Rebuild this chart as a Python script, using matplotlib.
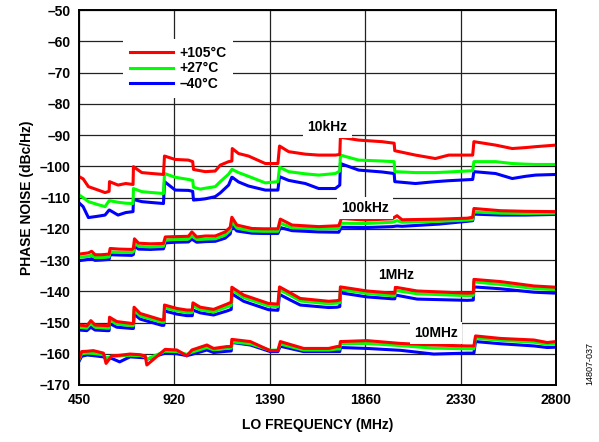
import matplotlib
import numpy as np

matplotlib.use("Agg")
import matplotlib.pyplot as plt

plt.rcParams["font.family"] = ["Liberation Sans", "DejaVu Sans"]
plt.rcParams["font.weight"] = "bold"

# 10 kHz offset
f_10k = [450, 470, 496, 540, 578, 598, 600, 642, 680, 716, 718, 759, 810, 866, 871, 924, 989,
         1010, 1014, 1047, 1072, 1121, 1146, 1187, 1203, 1205, 1236, 1285, 1368, 1430, 1438,
         1483, 1565, 1631, 1713, 1735, 1738, 1828, 1943, 2003, 2006, 2108, 2206, 2272, 2390,
         2396, 2503, 2585, 2650, 2700, 2800]
hot_10k = [-103.3, -104, -106.5, -107.5, -108.4, -108, -104.9, -106, -105.5, -105.8, -100.1,
           -102, -102.3, -102.6, -96.7, -97.8, -98, -98.5, -101, -101.4, -101.7, -101.5, -99.6,
           -98.5, -98.3, -94.3, -95.9, -96.7, -99.1, -99.1, -93.5, -95.3, -96.1, -96.4, -96.4,
           -96.2, -90.7, -91.6, -92.1, -92.6, -95, -96.4, -97.5, -96.4, -96.4, -92.1, -93.2,
           -94.3, -94, -93.7, -93.2]
room_10k = [-109.2, -110, -111.3, -112.2, -112.9, -111, -111, -111.5, -111.8, -111.9, -107.1,
            -108.1, -108.4, -108.7, -102.3, -103.5, -104.2, -104.5, -106.7, -107.3, -107,
            -106.5, -104.9, -102.5, -101, -101, -102, -103.2, -105.3, -104.9, -100.3, -101.7,
            -102.4, -102.8, -102.3, -101.5, -96.4, -98, -98.3, -98.5, -101.7, -102, -102,
            -101.8, -101.4, -98.5, -98.5, -99.1, -99.3, -99.4, -99.4]
cold_10k = [-111.7, -112.9, -116.4, -116, -115.6, -114, -114, -115.6, -114.8, -114.5, -110.6,
            -111.3, -111.6, -111.9, -104.9, -107.6, -107.7, -108, -110.8, -110.6, -110.4,
            -109.7, -108.5, -106, -103.5, -103.5, -105, -106.3, -107.6, -107.6, -103.3, -104.5,
            -105.5, -107.1, -107.1, -106, -99.1, -101.2, -101.8, -102.3, -104.9, -105.5, -104.9,
            -104.6, -104.2, -101.7, -102.3, -103.9, -103.2, -102.8, -102.6]

# 100 kHz offset
f_100k = [450, 496, 512, 529, 560, 598, 603, 650, 710, 718, 723, 743, 800, 866, 875, 924, 989,
          1006, 1030, 1072, 1121, 1170, 1195, 1203, 1228, 1302, 1360, 1430, 1442, 1500, 1631,
          1730, 1743, 1861, 1993, 2017, 2042, 2223, 2363, 2390, 2396, 2527, 2650, 2800]
hot_100k = [-128.1, -127.7, -127.2, -128.3, -128.3, -128.1, -126.3, -126.5, -126.6, -126.2,
            -123.2, -124.6, -124.8, -124.7, -122.6, -122.5, -122.4, -121, -122.6, -122.3,
            -122.3, -121, -119.5, -116.3, -118.8, -119.9, -120, -120, -116.9, -118.8, -119.3,
            -119, -116.7, -117.2, -116.8, -115.8, -117.1, -116.9, -116.6, -116.3, -113.5,
            -114.2, -114.4, -114.5]
room_100k = [-129.1, -128.8, -128.4, -129.2, -129.2, -129, -127.4, -127.5, -127.6, -127.3,
             -124.5, -125.6, -125.8, -125.6, -123.6, -123.4, -123.3, -122.3, -123.4, -123.3,
             -123.2, -122, -120.5, -117.6, -119.8, -120.7, -120.8, -120.8, -118.2, -119.7, -120,
             -119.9, -118.2, -118.3, -117.9, -117.4, -117.9, -117.6, -117.2, -117, -114.6, -115,
             -115.1, -115]
cold_100k = [-130.2, -129.8, -129.6, -130.1, -130, -129.8, -128.3, -128.4, -128.5, -128.2,
             -125.5, -126.5, -126.6, -126.4, -124.5, -124.3, -124.2, -123.3, -124.3, -124.1,
             -124, -123, -121.6, -118.8, -120.7, -121.4, -121.5, -121.5, -119.6, -120.6, -121,
             -121.1, -119.5, -119.6, -119.3, -119.1, -119.2, -118.5, -117.6, -117.4, -115.3,
             -115.6, -115.6, -115.4]

# 1 MHz offset
f_1m = [450, 488, 508, 529, 587, 598, 600, 636, 710, 718, 721, 751, 858, 868, 871, 932, 981,
        1008, 1011, 1047, 1113, 1179, 1200, 1203, 1261, 1384, 1430, 1438, 1491, 1540, 1680,
        1721, 1735, 1738, 1869, 1993, 2006, 2009, 2116, 2363, 2393, 2396, 2527, 2692, 2800]
hot_1m = [-150.8, -151.1, -149.4, -150.8, -151, -151, -148.3, -149.7, -150.3, -150.3, -145.1,
          -147.1, -149.2, -149.2, -144.4, -145.5, -146, -146, -143.7, -145.1, -145.8, -144.1,
          -143.5, -138.7, -141.2, -143.9, -144.1, -138.6, -140.5, -142.3, -143.2, -143, -142.8,
          -138.6, -139.9, -140.6, -140.6, -138.7, -139.9, -140.6, -140.5, -136.2, -136.9,
          -138.3, -138.7]
room_1m = [-151.5, -151.8, -150.3, -151.5, -151.8, -151.8, -149.2, -150.5, -151, -151, -146,
           -147.9, -149.9, -149.9, -145.3, -146.2, -146.8, -146.8, -144.6, -145.9, -146.6, -145,
           -144.5, -139.6, -142, -144.7, -144.9, -139.5, -141.3, -143.1, -144, -143.8, -143.6,
           -139.4, -140.7, -141.4, -141.4, -139.7, -140.8, -141.4, -141.3, -137, -137.8, -139.1,
           -139.5]
cold_1m = [-152.4, -152.6, -151.5, -152.4, -152.6, -152.6, -150.3, -151.5, -151.9, -151.9,
           -147.3, -148.9, -150.9, -150.9, -146.3, -147.3, -147.8, -147.8, -146, -146.9, -147.6,
           -146.3, -145.8, -140.8, -143.2, -145.9, -146.1, -141, -142.8, -144.4, -145.2, -145.1,
           -144.9, -140.5, -141.8, -142.4, -142.4, -141.2, -142.5, -142.9, -142.8, -138.6,
           -139.2, -140.3, -140.6]

# 10 MHz offset
f_10m = [450, 463, 490, 520, 570, 583, 611, 650, 701, 750, 776, 784, 817, 874, 932, 981, 1006,
         1080, 1113, 1179, 1200, 1203, 1294, 1392, 1430, 1442, 1557, 1680, 1721, 1735, 1738,
         1869, 2034, 2198, 2363, 2396, 2404, 2527, 2692, 2757, 2800]
hot_10m = [-161.5, -159.3, -159.2, -159, -159.8, -163.1, -160.7, -160.5, -160.1, -160.3, -160.7,
           -163.6, -161.8, -158.6, -158.8, -160.7, -158.8, -157.2, -158.3, -157.7, -157.7,
           -155.4, -156.1, -159, -159, -156.1, -158.3, -158.3, -157.7, -157.7, -156.1, -155.8,
           -156.7, -157.2, -157.5, -157.5, -154.3, -155.1, -155.6, -156.4, -156.1]
room_10m = [-161.8, -160, -159.8, -159.9, -160.3, -161.5, -160.8, -160.7, -160.5, -160.6, -160.9,
            -161.8, -160.8, -159.2, -159.3, -160.2, -159.5, -158, -158.7, -158.3, -158.2,
            -156.2, -156.8, -158.9, -158.8, -156.9, -158.8, -158.8, -158.5, -158.5, -156.8,
            -156.7, -157.4, -158.2, -158.4, -158.4, -155, -155.7, -156.3, -157, -156.8]
cold_10m = [-162.4, -160.8, -160.4, -160.6, -161, -161.4, -161.5, -162.6, -161, -161.2, -161.3,
            -161.8, -161, -159.8, -160, -160.6, -160.2, -158.8, -159.6, -159.2, -159.1, -156.4,
            -157.2, -159.3, -159.3, -157.6, -159.3, -159.3, -159.3, -159.3, -158, -158.3,
            -158.9, -160.1, -159.8, -159.8, -156.1, -156.8, -157.5, -158, -157.9]

temp_labels = ["+105°C", "+27°C", "–40°C"]
temp_colors = ["#ff0000", "#00ff00", "#0000ff"]

x_ticks = [450, 920, 1390, 1860, 2330, 2800]
y_ticks = list(range(-170, -40, 10))

band_labels = [("10kHz", 1674, -87.4), ("100kHz", 1861, -113.4),
               ("1MHz", 2014, -134.8), ("10MHz", 2211, -153.3)]

bands = [
    (f_10k, [hot_10k, room_10k, cold_10k]),
    (f_100k, [hot_100k, room_100k, cold_100k]),
    (f_1m, [hot_1m, room_1m, cold_1m]),
    (f_10m, [hot_10m, room_10m, cold_10m]),
]

fig = plt.figure(figsize=(5.99, 4.42), dpi=100)
ax = fig.add_axes([0.132, 0.129, 0.796, 0.848])

for freqs, series in bands:
    # draw cold first so the hot trace sits on top
    for values, color, label in reversed(list(zip(series, temp_colors, temp_labels))):
        ax.plot(freqs, values, color=color, lw=2.2, solid_joinstyle="round",
                label=label if freqs is f_10k else None, zorder=3)

ax.set_xlim(450, 2800)
ax.set_ylim(-170, -50)
ax.set_xticks(x_ticks)
ax.set_yticks(y_ticks)
ax.set_yticklabels([f"–{abs(v)}" for v in y_ticks])
ax.tick_params(length=0, labelsize=10, pad=6)
for lab in ax.get_xticklabels() + ax.get_yticklabels():
    lab.set_fontweight("bold")
ax.grid(True, color="#222222", lw=0.9, zorder=1)
for spine in ax.spines.values():
    spine.set_linewidth(1.4)
    spine.set_zorder(4)

ax.set_xlabel("LO FREQUENCY (MHz)", fontsize=10, fontweight="bold", labelpad=8)
ax.set_ylabel("PHASE NOISE (dBc/Hz)", fontsize=10, fontweight="bold", labelpad=4)

for text, fx, fy in band_labels:
    ax.text(fx, fy, text, ha="center", va="center", fontsize=10, fontweight="bold", zorder=5,
            bbox=dict(facecolor="white", edgecolor="none", pad=3))

handles, labels = ax.get_legend_handles_labels()
order = [labels.index(t) for t in temp_labels]
leg = ax.legend([handles[i] for i in order], [labels[i] for i in order],
                loc="upper left", bbox_to_anchor=(0.092, 0.922), frameon=True,
                fancybox=False, framealpha=1, edgecolor="none", facecolor="white",
                fontsize=10, handlelength=3.1, handletextpad=0.45, labelspacing=0.08,
                borderpad=0.5, borderaxespad=0)
for t in leg.get_texts():
    t.set_fontweight("bold")
leg.set_zorder(5)

fig.text(0.985, 0.13, "14807-037", rotation=90, fontsize=6.5, fontweight="normal",
         ha="center", va="bottom")

fig.savefig("out.png", dpi=100)
